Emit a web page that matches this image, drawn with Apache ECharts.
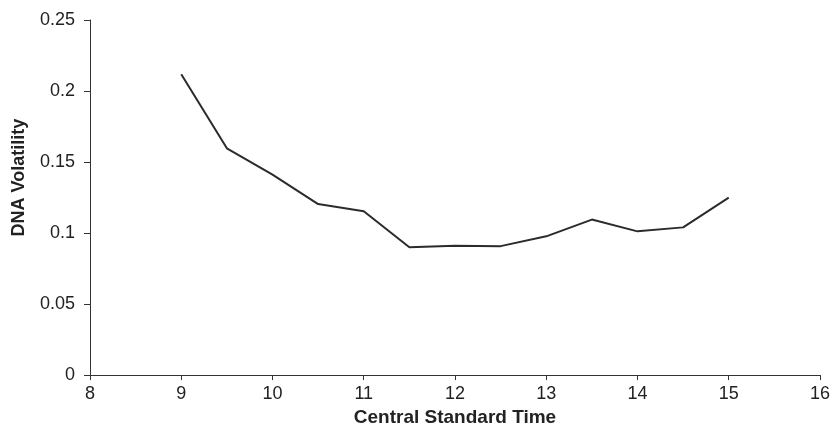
<!DOCTYPE html>
<html>
<head>
<meta charset="utf-8">
<script src="https://cdn.jsdelivr.net/npm/echarts@6/dist/echarts.min.js"></script>
<style>
html,body{margin:0;padding:0;background:#fff;}
#chart{width:833px;height:432px;}
</style>
</head>
<body>
<div id="chart"></div>
<script>
var times = [9, 9.5, 10, 10.5, 11, 11.5, 12, 12.5, 13, 13.5, 14, 14.5, 15];
var volatility = [0.2118, 0.1597, 0.1412, 0.1204, 0.1153, 0.0900, 0.0910, 0.0908, 0.0977, 0.1095, 0.1012, 0.1040, 0.1250];
var xTitle = 'Central Standard Time';
var yTitle = 'DNA Volatility';

var chart = echarts.init(document.getElementById('chart'), null, {renderer: 'canvas'});
var font = 'Liberation Sans, Arial, sans-serif';
chart.setOption({
  animation: false,
  backgroundColor: '#ffffff',
  grid: {left: 90, right: 12, top: 20, bottom: 52, containLabel: false},
  xAxis: {
    type: 'value', min: 8, max: 16, interval: 1,
    name: xTitle, nameLocation: 'middle', nameGap: 27,
    nameTextStyle: {fontFamily: font, fontWeight: 'bold', fontSize: 19, color: '#222'},
    axisLine: {show: true, onZero: false, lineStyle: {color: '#333', width: 1}},
    axisTick: {show: true, length: 5, lineStyle: {color: '#333'}},
    axisLabel: {fontFamily: font, fontSize: 18, color: '#222', margin: 10},
    splitLine: {show: false}
  },
  yAxis: {
    type: 'value', min: 0, max: 0.25, interval: 0.05,
    name: yTitle, nameLocation: 'middle', nameGap: 62, nameRotate: 90,
    nameTextStyle: {fontFamily: font, fontWeight: 'bold', fontSize: 18, color: '#222', padding: [0, 0, 0, 40]},
    axisLine: {show: true, lineStyle: {color: '#333', width: 1}},
    axisTick: {show: true, length: 6, lineStyle: {color: '#333'}},
    axisLabel: {fontFamily: font, fontSize: 18, color: '#222', margin: 15},
    splitLine: {show: false}
  },
  series: [{
    type: 'line',
    data: times.map(function (t, i) { return [t, volatility[i]]; }),
    showSymbol: false,
    symbol: 'none',
    lineStyle: {color: '#2b2b2b', width: 2},
    silent: true
  }]
});
</script>
</body>
</html>
